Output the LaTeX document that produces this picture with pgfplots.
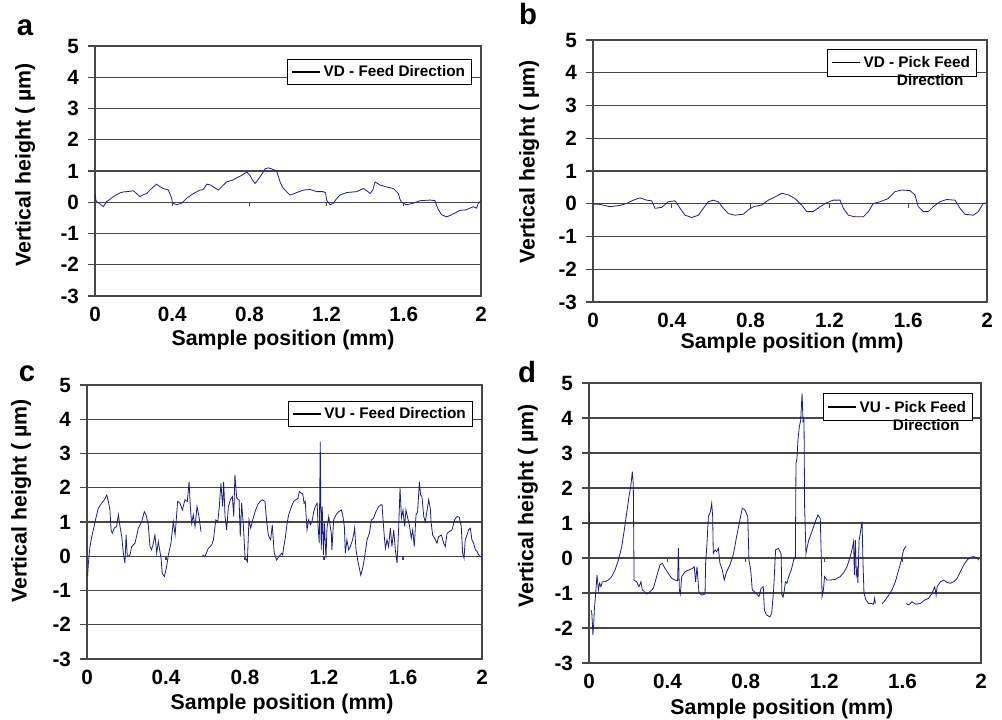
\documentclass[border=0pt]{standalone}
\usepackage{fontspec}
\setmainfont{Liberation Sans}
\usepackage{pgfplots}
\pgfplotsset{compat=1.18}
\definecolor{gridc}{RGB}{70,70,70}
\definecolor{trace}{RGB}{28,28,140}
\pgfplotsset{
 panel/.style={
  scale only axis,
  anchor=north west,
  xmin=0,xmax=2,ymin=-3,ymax=5,
  xtick={0,0.4,0.8,1.2,1.6,2},
  xticklabels={0,0.4,0.8,1.2,1.6,2},
  ytick={-3,-2,-1,0,1,2,3,4,5},
  yticklabels={-3,-2,-1,0,1,2,3,4,5},
  ytick pos=left,
  ymajorgrids,
  grid style={draw=gridc, line width=0.8pt},
  axis line style={draw=gridc, line width=0.8pt},
  tick align=outside,
  major tick length=5pt,
  xtick style={draw=none},
  ytick style={draw=gridc, line width=0.8pt},
  ticklabel style={font=\fontsize{15.5}{15.5}\selectfont\bfseries},
  yticklabel style={xshift=-3.5pt},
  label style={font=\fontsize{16}{16}\selectfont\bfseries},
  xlabel={Sample position (mm)},
  ylabel={Vertical height ( µm)},
  legend style={font=\fontsize{11.5}{13.5}\selectfont\bfseries, draw=black, line width=0.6pt, inner xsep=3pt, inner ysep=2.5pt, anchor=north east},
  legend cell align=left,
  legend image code/.code={\draw[black, line width=1.2pt] (0pt,0pt) -- (21pt,0pt);},
  unbounded coords=jump,
 },
 trc/.style={trace, line width=0.6pt, mark=none},
}
\newcommand{\zeroticks}{\pgfplotsinvokeforeach{0.4,0.8,1.2,1.6}{\draw[gridc, line width=0.8pt] (axis cs:##1,0) -- ([yshift=-3pt]axis cs:##1,0);}}
\begin{document}
\begin{tikzpicture}
\path[use as bounding box] (0pt,0pt) rectangle (751.5pt,-540pt);
% ---------------- a ----------------
\begin{axis}[panel, at={(71.25pt,-34.5pt)}, width=289.5pt, height=187.5pt,
  xlabel style={at={(axis description cs:0.487,-0.176)}, anchor=center},
  ylabel style={at={(axis description cs:-0.181,0.524)}, anchor=center},
  legend style={at={(0.977,0.948)}}]
\addplot[trc] coordinates {
(0.000,0.28)(0.005,0.05)(0.009,0.02)(0.025,-0.05)(0.043,-0.14)(0.060,0.02)(0.075,0.08)(0.095,0.18)(0.112,0.24)(0.130,0.30)(0.147,0.33)(0.164,0.34)(0.182,0.35)(0.199,0.37)(0.215,0.28)(0.233,0.18)(0.250,0.24)(0.268,0.28)(0.290,0.42)(0.319,0.58)(0.336,0.50)(0.354,0.44)(0.380,0.39)(0.397,0.13)(0.402,-0.03)(0.423,-0.08)(0.449,-0.03)(0.475,0.13)(0.492,0.20)(0.510,0.28)(0.544,0.39)(0.560,0.40)(0.579,0.58)(0.600,0.55)(0.613,0.49)(0.639,0.39)(0.660,0.52)(0.682,0.65)(0.717,0.72)(0.735,0.78)(0.751,0.83)(0.770,0.90)(0.786,0.97)(0.803,0.86)(0.815,0.72)(0.829,0.60)(0.842,0.70)(0.855,0.81)(0.870,0.95)(0.881,1.07)(0.898,1.10)(0.915,1.07)(0.941,1.00)(0.959,0.65)(0.970,0.50)(0.984,0.39)(1.010,0.23)(1.030,0.27)(1.045,0.31)(1.080,0.39)(1.114,0.41)(1.149,0.34)(1.183,0.34)(1.195,0.30)(1.200,0.07)(1.218,-0.08)(1.235,-0.03)(1.250,0.10)(1.269,0.23)(1.304,0.31)(1.356,0.34)(1.390,0.44)(1.410,0.36)(1.425,0.28)(1.440,0.40)(1.451,0.65)(1.477,0.55)(1.511,0.49)(1.546,0.44)(1.572,0.28)(1.580,0.10)(1.589,-0.01)(1.615,-0.08)(1.649,-0.03)(1.684,0.05)(1.736,0.07)(1.762,0.05)(1.770,-0.10)(1.779,-0.24)(1.796,-0.40)(1.822,-0.47)(1.840,-0.42)(1.857,-0.37)(1.891,-0.26)(1.925,-0.24)(1.960,-0.14)(1.977,-0.19)(1.985,-0.05)(1.995,0.02)(2.000,0.05)
};
\addlegendentry{VD - Feed Direction}
\zeroticks
\end{axis}
% ---------------- b ----------------
\begin{axis}[panel, at={(444.75pt,-30pt)}, width=295.5pt, height=196.5pt,
  xlabel style={at={(axis description cs:0.505,-0.156)}, anchor=center},
  ylabel style={at={(axis description cs:-0.162,0.534)}, anchor=center},
  legend style={at={(0.975,0.966)}}]
\addplot[trc] coordinates {
(0.002,-0.01)(0.036,-0.02)(0.086,-0.09)(0.137,-0.05)(0.171,0.01)(0.205,0.11)(0.239,0.18)(0.272,0.11)(0.298,0.09)(0.315,-0.14)(0.349,-0.11)(0.382,0.06)(0.416,0.09)(0.442,-0.14)(0.467,-0.35)(0.501,-0.42)(0.535,-0.35)(0.560,-0.14)(0.585,0.06)(0.611,0.11)(0.636,0.06)(0.662,-0.14)(0.687,-0.30)(0.721,-0.35)(0.763,-0.32)(0.788,-0.19)(0.814,-0.09)(0.856,-0.04)(0.890,0.11)(0.924,0.21)(0.958,0.32)(0.992,0.27)(1.025,0.16)(1.059,-0.04)(1.085,-0.24)(1.118,-0.24)(1.152,-0.09)(1.186,0.03)(1.220,0.11)(1.254,0.11)(1.271,-0.14)(1.296,-0.35)(1.330,-0.40)(1.372,-0.40)(1.398,-0.24)(1.423,0.01)(1.457,0.06)(1.499,0.16)(1.533,0.37)(1.567,0.42)(1.609,0.40)(1.634,0.27)(1.651,-0.09)(1.677,-0.24)(1.702,-0.24)(1.727,-0.09)(1.761,0.06)(1.795,0.13)(1.838,0.11)(1.863,-0.14)(1.888,-0.32)(1.931,-0.35)(1.956,-0.24)(1.981,0.01)(2.000,0.03)
};
\addlegendentry{\begin{tabular}[t]{@{}r@{}}VD - Pick Feed\\Direction\kern5pt\end{tabular}}
\zeroticks
\end{axis}
% ---------------- c ----------------
\begin{axis}[panel, at={(65.25pt,-288.75pt)}, width=296.25pt, height=205.5pt,
  xlabel style={at={(axis description cs:0.494,-0.164)}, anchor=center},
  ylabel style={at={(axis description cs:-0.167,0.577)}, anchor=center},
  legend style={at={(0.977,0.942)}}]
\addplot[trc] coordinates {
(0.003,-0.59)(0.007,-0.20)(0.015,0.28)(0.024,0.57)(0.032,0.77)(0.041,1.01)(0.049,1.21)(0.057,1.40)(0.074,1.55)(0.088,1.65)(0.100,1.79)(0.108,1.60)(0.116,1.35)(0.122,0.77)(0.128,0.67)(0.138,0.82)(0.150,0.87)(0.159,1.21)(0.167,0.87)(0.176,0.57)(0.184,0.09)(0.192,-0.20)(0.198,0.62)(0.204,-0.01)(0.218,0.04)(0.226,0.28)(0.243,0.38)(0.260,0.82)(0.277,1.01)(0.290,1.30)(0.299,1.21)(0.310,0.92)(0.319,0.28)(0.327,0.19)(0.336,0.38)(0.344,0.62)(0.353,0.09)(0.361,0.43)(0.375,-0.06)(0.381,-0.50)(0.392,-0.59)(0.403,-0.30)(0.412,0.04)(0.425,0.38)(0.437,1.01)(0.446,0.62)(0.459,1.60)(0.471,1.55)(0.483,1.35)(0.496,1.65)(0.508,1.60)(0.517,2.18)(0.523,1.45)(0.530,0.96)(0.538,1.21)(0.547,0.87)(0.557,1.45)(0.567,1.16)(0.577,0.72)(0.580,nan)
(0.584,0.04)(0.597,-0.01)(0.614,0.23)(0.631,0.33)(0.640,0.48)(0.652,1.06)(0.662,1.01)(0.670,1.45)(0.678,2.13)(0.687,1.45)(0.692,2.18)(0.699,1.16)(0.707,0.77)(0.716,1.45)(0.726,1.65)(0.736,1.74)(0.743,1.16)(0.749,2.38)(0.758,1.69)(0.770,1.65)(0.776,0.57)(0.783,1.55)(0.792,0.87)(0.800,-0.01)(0.812,-0.16)(0.820,1.06)(0.829,0.82)(0.839,1.06)(0.851,1.30)(0.864,1.50)(0.876,1.60)(0.888,1.65)(0.901,1.60)(0.910,1.01)(0.918,0.62)(0.930,0.48)(0.938,0.92)(0.948,0.09)(0.960,-0.11)(0.972,-0.01)(0.986,0.09)(0.991,0.04)(0.996,0.28)(1.004,0.53)(1.013,0.96)(1.021,1.21)(1.035,1.45)(1.046,1.60)(1.058,1.65)(1.068,1.69)(1.075,1.89)(1.085,1.84)(1.092,1.84)(1.099,1.55)(1.105,1.60)(1.114,0.77)(1.122,1.06)(1.131,0.92)(1.139,1.01)(1.148,1.30)(1.156,1.45)(1.165,1.55)(1.170,0.87)(1.176,0.38)(1.181,3.35)(1.186,0.19)(1.191,1.45)(1.197,0.04)(1.202,0.96)(1.210,-0.06)(1.215,0.82)(1.224,1.16)(1.237,0.67)(1.240,0.19)(1.249,1.06)(1.261,1.21)(1.274,1.30)(1.288,1.35)(1.296,1.16)(1.303,0.87)(1.308,0.09)(1.316,0.48)(1.325,0.19)(1.333,0.28)(1.342,0.43)(1.350,0.62)(1.355,0.82)(1.362,0.19)(1.372,-0.16)(1.379,-0.35)(1.386,-0.55)(1.396,-0.35)(1.406,-0.01)(1.418,0.48)(1.430,0.67)(1.440,1.06)(1.451,1.11)(1.463,1.30)(1.477,1.45)(1.487,1.50)(1.494,1.50)(1.499,1.06)(1.506,0.53)(1.511,0.23)(1.519,0.48)(1.527,0.28)(1.536,0.82)(1.544,0.28)(1.553,0.77)(1.561,0.19)(1.570,-0.20)(1.578,0.82)(1.585,1.99)(1.592,1.11)(1.600,1.35)(1.608,0.87)(1.615,1.35)(1.624,1.11)(1.632,0.92)(1.642,0.53)(1.649,0.77)(1.657,0.28)(1.666,1.21)(1.674,1.30)(1.683,2.18)(1.689,1.79)(1.696,1.74)(1.705,1.16)(1.713,1.01)(1.721,1.30)(1.730,1.65)(1.738,1.40)(1.743,0.96)(1.750,0.62)(1.760,0.53)(1.772,0.38)(1.780,0.57)(1.794,0.62)(1.806,0.38)(1.814,0.28)(1.823,0.67)(1.835,0.72)(1.848,0.77)(1.861,1.06)(1.873,1.16)(1.885,1.14)(1.895,0.87)(1.902,0.09)(1.909,-0.06)(1.915,0.48)(1.924,0.62)(1.932,0.77)(1.941,0.82)(1.949,0.48)(1.958,0.38)(1.966,0.19)(1.975,0.14)(1.983,0.04)(1.997,-0.03)
};
\addlegendentry{VU - Feed Direction}
\zeroticks
\end{axis}
% ---------------- d ----------------
\begin{axis}[panel, at={(441.75pt,-287.25pt)}, width=294pt, height=210pt,
  xlabel style={at={(axis description cs:0.492,-0.164)}, anchor=center},
  ylabel style={at={(axis description cs:-0.156,0.561)}, anchor=center},
  legend style={at={(0.980,0.964)}}]
\addplot[trc] coordinates {
(0.003,0.85)(0.003,1.30)(0.006,nan)
(0.010,-1.49)(0.014,-1.55)(0.017,-1.85)(0.020,-2.20)(0.024,-1.90)(0.027,-1.49)(0.034,-1.01)(0.041,-0.49)(0.048,-0.91)(0.054,-0.72)(0.061,-0.82)(0.068,-0.68)(0.082,-0.68)(0.099,-0.63)(0.116,-0.53)(0.133,-0.34)(0.150,-0.06)(0.167,0.32)(0.180,0.80)(0.192,1.28)(0.204,1.75)(0.214,2.09)(0.221,2.47)(0.226,2.09)(0.230,-0.63)(0.243,-0.68)(0.255,-0.82)(0.265,-0.68)(0.272,-0.91)(0.282,-0.96)(0.294,-1.03)(0.311,-0.96)(0.328,-0.87)(0.345,-0.53)(0.362,-0.20)(0.374,-0.15)(0.388,-0.30)(0.405,-0.44)(0.422,-0.58)(0.439,-0.63)(0.452,-0.65)(0.456,0.28)(0.461,-0.91)(0.466,-1.03)(0.473,-0.53)(0.490,-0.39)(0.510,-0.34)(0.527,-0.30)(0.537,-0.25)(0.544,-0.68)(0.551,-0.25)(0.561,-0.99)(0.575,-1.06)(0.592,-1.03)(0.595,-0.15)(0.602,0.42)(0.609,1.18)(0.619,1.32)(0.626,1.56)(0.631,1.18)(0.634,0.13)(0.643,0.23)(0.651,0.18)(0.660,0.28)(0.668,-0.15)(0.680,-0.34)(0.690,-0.63)(0.702,-0.39)(0.719,-0.20)(0.736,0.09)(0.753,0.61)(0.770,1.09)(0.782,1.42)(0.796,1.37)(0.810,1.18)(0.816,-0.06)(0.825,-0.34)(0.833,-0.91)(0.844,-0.96)(0.856,-1.03)(0.867,-1.10)(0.878,-0.87)(0.889,-0.82)(0.895,-1.49)(0.906,-1.63)(0.923,-1.68)(0.932,-1.58)(0.942,-0.91)(0.952,0.23)(0.966,0.28)(0.980,0.13)(0.984,-1.05)(0.990,-1.12)(0.997,-0.91)(1.002,-0.68)(1.010,-0.72)(1.019,-0.53)(1.032,-0.34)(1.044,-0.06)(1.053,0.04)(1.056,2.70)(1.061,2.85)(1.066,3.37)(1.073,3.75)(1.080,3.94)(1.087,4.70)(1.092,3.90)(1.097,3.94)(1.100,1.47)(1.107,0.13)(1.112,0.28)(1.121,0.51)(1.134,0.70)(1.146,0.90)(1.158,1.09)(1.168,1.23)(1.180,1.13)(1.185,0.04)(1.189,-1.10)(1.196,-0.91)(1.202,-0.53)(1.214,-0.63)(1.231,-0.63)(1.257,-0.61)(1.282,-0.53)(1.299,-0.42)(1.316,-0.25)(1.333,0.04)(1.345,0.32)(1.350,0.47)(1.354,-0.49)(1.359,0.51)(1.364,-0.49)(1.369,-0.34)(1.372,-0.72)(1.378,0.51)(1.384,0.70)(1.393,1.04)(1.398,-0.15)(1.403,-1.01)(1.413,-1.20)(1.427,-1.30)(1.444,-1.30)(1.452,-1.32)(1.457,-1.15)(1.461,-1.30)(1.470,nan)
(1.495,-1.31)(1.512,-1.20)(1.529,-1.06)(1.546,-0.91)(1.563,-0.68)(1.580,-0.34)(1.594,-0.06)(1.605,0.23)(1.617,0.34)(1.618,nan)
(1.619,-1.30)(1.631,-1.34)(1.648,-1.25)(1.665,-1.32)(1.690,-1.30)(1.713,-1.20)(1.733,-1.15)(1.750,-1.01)(1.764,-0.82)(1.771,-1.06)(1.776,-0.82)(1.793,-0.68)(1.810,-0.63)(1.827,-0.70)(1.844,-0.72)(1.861,-0.68)(1.878,-0.58)(1.895,-0.39)(1.912,-0.20)(1.929,-0.06)(1.946,0.02)(1.963,0.04)(1.980,0.00)(1.988,-0.06)
};
\addlegendentry{\begin{tabular}[t]{@{}r@{}}VU - Pick Feed\\Direction\kern5pt\end{tabular}}
\zeroticks
\end{axis}
% panel letters
\node[font=\fontsize{22}{22}\selectfont\bfseries] at (18.75pt,-21pt) {a};
\node[font=\fontsize{22}{22}\selectfont\bfseries] at (396pt,-10.5pt) {b};
\node[font=\fontsize{22}{22}\selectfont\bfseries] at (20.25pt,-280.5pt) {c};
\node[font=\fontsize{22}{22}\selectfont\bfseries] at (395.25pt,-279pt) {d};
\end{tikzpicture}
\end{document}
